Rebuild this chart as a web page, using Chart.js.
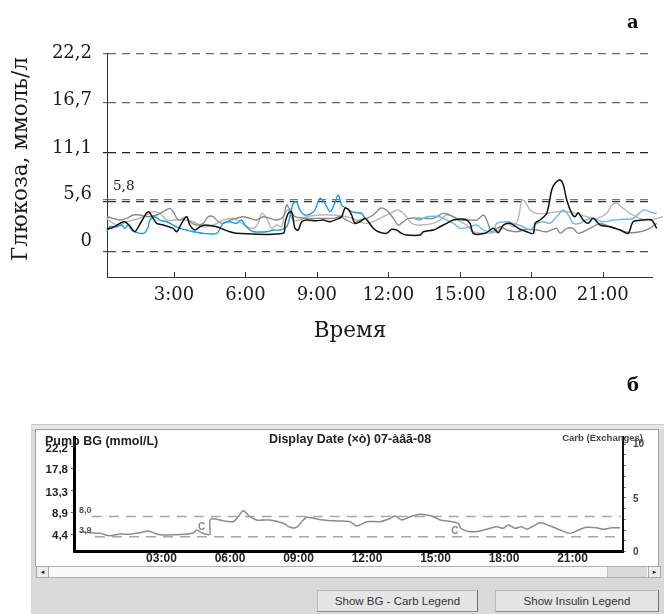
<!DOCTYPE html>
<html lang="ru">
<head>
<meta charset="utf-8">
<title>Глюкоза</title>
<script src="https://cdn.jsdelivr.net/npm/chart.js@4/dist/chart.umd.min.js"></script>
<style>
  html,body{margin:0;padding:0;background:#fff;}
  body{width:664px;height:614px;position:relative;overflow:hidden;}
  #ca{position:absolute;left:0;top:0;}
  .tag{position:absolute;font:bold 18px "DejaVu Serif",serif;color:#111;line-height:20px;}
  #win{position:absolute;left:31px;top:424px;width:633px;height:190px;background:#d9d9d9;}
  #winTop{position:absolute;left:31px;top:424px;width:633px;height:5px;background:#e6e6e6;border-top:1px solid #c8c8c8;box-sizing:border-box;}
  #plotframe{position:absolute;left:35px;top:429px;width:624px;height:138px;background:#a4a4a4;}
  #cb{position:absolute;left:36px;top:430px;background:#fff;}
  #scroll{position:absolute;left:36px;top:566px;width:625px;height:12px;background:#f8f8f8;border:1px solid #b0b0b0;box-sizing:border-box;}
  .sbtn{position:absolute;top:566px;height:12px;background:#ececec;border:1px solid #a8a8a8;box-sizing:border-box;font:7px "DejaVu Sans",sans-serif;color:#222;text-align:center;line-height:10px;}
  #thumb{position:absolute;left:607px;top:567px;width:40px;height:10px;background:#dadada;border-left:1px solid #c4c4c4;box-sizing:border-box;}
  .btn{position:absolute;top:590px;height:22px;background:#e5e5e5;border:1px solid #b8b8b8;border-right-color:#6f6f6f;border-bottom-color:#8a8a8a;box-sizing:border-box;font:11.5px "Liberation Sans",Arial,sans-serif;color:#333;text-align:center;line-height:20px;}
</style>
</head>
<body>
<canvas id="ca" width="664" height="345"></canvas>
<div class="tag" style="left:627px;top:12px;">а</div>
<div class="tag" style="left:627px;top:375px;">б</div>

<div id="win"></div>
<div id="winTop"></div>
<div id="plotframe"></div>
<canvas id="cb" width="622" height="136"></canvas>
<div id="scroll"></div>
<div class="sbtn" style="left:36px;width:13px;">◂</div>
<div id="thumb"></div>
<div class="sbtn" style="left:648px;width:13px;">▸</div>
<div class="btn" style="left:317px;width:161px;">Show BG - Carb Legend</div>
<div class="btn" style="left:495px;width:164px;">Show Insulin Legend</div>

<script>
// ---------- Panel а : glucose over 24 h (hours, mmol/L) ----------
const yTicks = [0, 5.6, 11.1, 16.7, 22.2];
const yTickLabels = ['0', '5,6', '11,1', '16,7', '22,2'];
const refValue = 5.8;
const refLabel = '5,8';
const xTicks = [3, 6, 9, 12, 15, 18, 21];
const xTickLabels = ['3:00', '6:00', '9:00', '12:00', '15:00', '18:00', '21:00'];
const yTitle = 'Глюкоза, ммоль/л';
const xTitle = 'Время';

const blackSeries = [[0.18,2.51],[0.45,2.73],[0.73,3.18],[0.94,3.36],[1.15,2.88],[1.36,2.24],[1.62,3.33],[1.92,4.48],[2.13,3.74],[2.28,3.18],[2.55,2.99],[2.97,2.62],[3.12,2.24],[3.32,3.18],[3.53,3.92],[3.67,2.99],[3.88,2.43],[4.09,2.80],[4.30,2.99],[4.79,2.80],[5.07,2.51],[5.35,2.24],[5.63,2.06],[7.59,2.06],[7.66,3.18],[7.80,4.30],[7.94,4.48],[8.08,2.62],[8.22,2.43],[8.36,3.36],[8.57,3.55],[8.99,3.47],[9.27,3.55],[9.55,3.36],[9.83,3.63],[10.04,3.92],[10.18,4.86],[10.32,4.75],[10.46,4.11],[10.60,3.18],[10.81,3.36],[11.02,3.74],[11.16,3.36],[11.37,2.62],[11.58,2.24],[11.93,2.06],[12.14,2.51],[12.35,2.43],[12.56,2.06],[12.77,1.87],[13.33,1.87],[13.47,2.24],[13.89,2.43],[14.17,2.80],[14.45,3.18],[14.73,3.55],[15.22,3.63],[15.43,3.18],[15.57,2.06],[16.06,2.06],[16.41,2.62],[16.62,2.13],[16.83,2.99],[17.11,3.18],[17.46,2.62],[17.81,2.24],[18.09,2.06],[18.16,3.18],[18.37,3.55],[18.65,4.30],[18.86,6.91],[19.00,7.66],[19.21,8.03],[19.35,7.47],[19.49,5.79],[19.70,4.30],[19.84,3.92],[19.97,4.37],[20.18,3.55],[20.39,3.18],[20.60,3.74],[20.89,2.99],[21.31,2.80],[21.73,2.43],[22.07,2.06],[22.28,3.36],[22.70,3.55],[23.06,3.55],[23.27,2.62],[23.48,2.06]];

const blueSeries = [[0.18,2.24],[0.31,2.80],[0.60,2.80],[0.81,2.99],[0.94,2.62],[1.08,2.99],[1.23,2.43],[1.36,2.24],[1.57,2.06],[1.78,2.13],[1.92,2.80],[1.99,3.55],[2.20,3.92],[2.41,3.55],[2.70,3.36],[2.97,2.99],[3.25,2.62],[3.53,2.43],[3.81,2.24],[4.23,2.06],[4.79,2.06],[5.07,3.18],[5.35,3.36],[5.63,3.18],[5.84,3.55],[5.98,2.99],[6.19,2.43],[6.33,2.24],[6.89,2.24],[7.17,2.43],[7.45,2.43],[7.73,2.80],[7.87,3.92],[8.01,5.42],[8.15,5.60],[8.29,4.67],[8.50,4.11],[8.78,4.30],[8.92,4.67],[9.13,5.98],[9.34,5.42],[9.55,4.48],[9.69,5.04],[9.90,6.35],[10.04,5.23],[10.25,4.86],[10.46,4.48],[10.67,4.37],[10.88,4.30],[11.02,3.74]];

const lightBlueSeries = [[13.05,3.74],[13.33,3.55],[13.61,3.92],[14.17,3.92],[14.45,3.55],[14.73,3.18],[15.01,2.62],[15.43,2.80],[15.71,2.99],[15.99,2.43],[16.41,2.24],[16.55,3.18],[16.97,3.36],[17.25,3.18],[17.67,2.80],[17.95,2.43],[18.23,3.18],[18.51,3.36],[18.79,3.18],[19.07,3.92],[19.35,4.67],[19.56,4.11],[19.76,3.18],[20.05,3.18],[20.26,3.55],[20.60,3.74],[21.02,3.36],[21.44,3.55],[21.86,3.63],[22.28,3.74],[22.70,4.67],[22.98,4.48],[23.27,4.30],[23.53,4.30]];

const darkGraySeries = [[0.18,3.92],[0.45,3.74],[0.73,3.55],[1.02,3.74],[1.29,4.11],[1.57,4.11],[1.92,3.92],[2.28,4.11],[2.55,4.48],[2.83,4.86],[2.97,4.48],[3.12,3.74],[3.25,3.55],[3.53,3.92],[3.67,3.36],[3.95,2.99],[4.23,3.18],[4.44,3.92],[4.65,3.92],[4.86,3.36],[5.07,3.18],[5.35,3.55],[5.63,3.74],[5.91,3.92],[6.19,3.74],[6.47,3.55],[6.75,3.92],[7.03,3.74],[7.31,3.55],[7.59,3.92],[7.73,5.23],[7.87,4.67],[8.08,3.92],[8.57,3.74],[9.27,3.74],[9.69,3.74],[9.97,3.92],[10.25,3.55],[10.53,3.18],[10.81,3.55],[11.09,3.74],[11.37,4.11],[11.65,4.86],[11.79,4.86],[12.00,4.48],[12.21,3.74],[12.42,2.99],[12.63,3.36],[12.84,3.74],[13.47,3.74],[13.89,3.74],[14.31,4.30],[14.73,3.92],[15.01,3.55],[15.43,3.55],[15.71,3.55],[15.99,4.11],[16.13,3.55],[16.34,2.24],[16.69,2.80],[16.97,2.43],[17.39,2.24],[17.81,2.51],[18.23,2.43],[18.65,2.24],[19.07,2.62],[19.21,2.06],[19.49,2.62],[19.76,2.62],[19.97,2.06],[20.33,2.43],[20.60,2.80],[20.89,3.18],[21.31,2.80],[21.73,2.43],[22.14,2.13],[22.57,2.24],[22.98,2.62],[23.27,3.18],[23.53,3.36]];

const lightGraySeries = [[0.18,3.74],[0.45,3.18],[0.73,2.99],[1.02,3.36],[1.29,3.55],[1.57,3.74],[1.86,4.11],[2.13,4.48],[2.41,4.30],[2.70,3.55],[3.04,3.55],[3.39,3.55],[3.81,3.36],[4.23,2.80],[4.65,2.99],[5.07,3.55],[5.49,3.74],[5.77,3.36],[6.05,2.80],[6.33,2.62],[6.54,3.18],[6.68,4.30],[6.89,3.74],[7.10,2.62],[7.31,2.99],[7.52,2.80],[7.66,4.30],[7.80,4.67],[8.01,3.55],[8.29,3.55],[8.57,3.92],[9.13,4.11],[9.69,4.11],[10.25,3.92],[10.67,3.55],[11.09,3.18],[11.51,3.55],[11.93,4.11],[12.42,4.67],[12.70,4.11],[12.98,3.18],[13.33,2.99],[13.89,3.18],[14.17,3.55],[14.45,4.11],[14.73,3.92],[15.01,3.36],[15.29,2.99],[15.57,2.24],[16.13,2.06],[16.55,2.24],[16.97,3.18],[17.25,2.80],[17.46,3.74],[17.60,5.79],[17.74,5.60],[17.95,4.67],[18.23,4.30],[18.65,4.30],[19.07,4.48],[19.49,4.48],[19.91,4.30],[20.33,3.92],[20.75,3.74],[21.17,4.30],[21.38,5.23],[21.59,5.42],[21.86,4.86],[22.14,4.30],[22.57,3.74],[22.98,3.55],[23.53,3.92]];

// ---------- Panel б : pump BG screenshot ----------
const bgTicks = [4.4, 8.9, 13.3, 17.8, 22.2];
const bgTickLabels = ['4,4', '8,9', '13,3', '17,8', '22,2'];
const carbTicks = [0,1,2,3,4,5,6,7,8,9,10];
const carbLabelTicks = [0, 5, 10];
const bTimeTicks = [3, 6, 9, 12, 15, 18, 21];
const bTimeLabels = ['03:00', '06:00', '09:00', '12:00', '15:00', '18:00', '21:00'];
const targetVals = [8.0, 3.9];
const targetLabels = ['8,0', '3,9'];
const targetStart = [-0.05, 0.09];
const targetEnd = 23.1;
const carbT = [4.76, 15.85];
const carbBG = [5.8, 4.9];
const leftTitle = 'Pump BG (mmol/L)';
const dateTitle = 'Display Date (×ò) 07-àâã-08';
const rightTitle = 'Carb (Exchanges)';

const pumpSeries = [[-0.59,4.90],[-0.15,4.70],[0.31,4.58],[0.74,4.09],[1.18,4.44],[1.62,4.37],[2.06,4.70],[2.42,5.05],[2.79,4.44],[3.08,4.23],[3.52,4.29],[3.96,4.37],[4.39,4.64],[4.54,5.25],[4.76,4.70],[4.98,4.37],[5.12,4.37],[5.15,7.42],[5.71,7.14],[6.15,6.94],[6.36,7.95],[6.58,9.17],[6.88,7.95],[7.17,7.28],[7.75,7.28],[8.34,6.61],[8.63,5.80],[8.92,5.80],[9.14,6.94],[9.36,7.83],[9.65,7.63],[10.09,7.28],[10.67,7.08],[11.26,6.94],[11.55,6.06],[11.99,6.94],[12.57,6.94],[12.93,7.42],[13.23,8.09],[13.52,7.28],[13.89,7.95],[14.32,8.44],[14.62,8.30],[14.91,7.95],[15.20,7.28],[15.71,6.94],[16.00,6.61],[16.11,5.59],[16.51,4.90],[16.95,5.05],[17.39,5.59],[17.68,5.92],[17.97,5.59],[18.19,6.27],[18.48,5.59],[18.78,5.92],[19.00,5.39],[19.29,6.06],[19.58,6.73],[20.02,6.06],[20.46,5.25],[20.89,4.58],[21.26,5.25],[21.62,5.80],[22.06,5.71],[22.35,5.39],[22.72,5.71],[23.08,5.71]];

const toXY = s => s.map(([t, v]) => ({x: t, y: v}));
const SERIF = '"DejaVu Serif", serif';
const SANS = '"Liberation Sans", Arial, sans-serif';

// ---- plugin for panel а ----
const panelA = {
  id: 'panelA',
  afterDraw(chart) {
    const {ctx, chartArea: ca, scales: {x, y}} = chart;
    ctx.save();
    ctx.strokeStyle = '#333'; ctx.lineWidth = 1;
    xTicks.forEach(v => {
      const px = Math.round(x.getPixelForValue(v)) + 0.5;
      ctx.beginPath(); ctx.moveTo(px, ca.bottom); ctx.lineTo(px, ca.bottom - 5); ctx.stroke();
    });
    const lift = [10, 7, 4.5, 2.5, 0];
    ctx.fillStyle = '#1a1a1a'; ctx.textBaseline = 'middle';
    ctx.font = '18px ' + SERIF; ctx.textAlign = 'right';
    yTicks.forEach((v, i) => ctx.fillText(yTickLabels[i], 92, y.getPixelForValue(v) - lift[i]));
    ctx.font = '13.5px ' + SERIF; ctx.textAlign = 'left';
    ctx.fillText(refLabel, 113, y.getPixelForValue(refValue) - 13);
    ctx.font = '21.5px ' + SERIF; ctx.textAlign = 'center';
    ctx.fillText(xTitle, 350, 331);
    ctx.translate(21, 159); ctx.rotate(-Math.PI / 2);
    ctx.fillText(yTitle, 0, 0);
    ctx.restore();
  }
};

const gridColors = {0: '#4a4a4a', 5.6: '#333', 5.8: '#777', 11.1: '#222', 16.7: '#666', 22.2: '#6a6a6a'};

new Chart(document.getElementById('ca'), {
  type: 'line',
  data: {
    datasets: [
      {label: 'black', data: toXY(blackSeries), borderColor: '#111', borderWidth: 1.5},
      {label: 'blue', data: toXY(blueSeries), borderColor: '#1c9ad8', borderWidth: 1.4},
      {label: 'lightblue', data: toXY(lightBlueSeries), borderColor: '#6db9e6', borderWidth: 1.4},
      {label: 'darkgray', data: toXY(darkGraySeries), borderColor: '#8a8a8a', borderWidth: 1.4},
      {label: 'lightgray', data: toXY(lightGraySeries), borderColor: '#b8b8b8', borderWidth: 1.4}
    ].map(d => Object.assign(d, {pointRadius: 0, tension: 0.3, clip: false, fill: false}))
  },
  options: {
    responsive: false, animation: false,
    layout: {padding: {left: 0, right: 12, top: 53.5, bottom: 0}},
    plugins: {legend: {display: false}, tooltip: {enabled: false}},
    scales: {
      x: {
        type: 'linear', min: 0.19, max: 23.07,
        afterBuildTicks: s => { s.ticks = xTicks.map(v => ({value: v})); },
        afterFit: s => { s.height = 68; },
        ticks: {
          callback: v => xTickLabels[xTicks.indexOf(v)] ?? '',
          font: {family: SERIF, size: 18}, color: '#1a1a1a', padding: 8,
          maxRotation: 0, autoSkip: false
        },
        grid: {display: false, drawTicks: false},
        border: {display: true, color: '#333', width: 1}
      },
      y: {
        type: 'linear', min: -2.83, max: 22.2,
        afterBuildTicks: s => { s.ticks = [...yTicks, refValue].map(v => ({value: v})); },
        afterFit: s => { s.width = 107; },
        ticks: {display: false},
        grid: {
          color: c => gridColors[c.tick.value] || '#555',
          lineWidth: 1.2, drawTicks: true, tickLength: 4,
          tickColor: c => gridColors[c.tick.value] || '#555'
        },
        border: {display: true, color: '#333', width: 1, dash: [8, 6]}
      }
    }
  },
  plugins: [panelA]
});

// ---- plugin for panel б ----
const panelB = {
  id: 'panelB',
  afterDraw(chart) {
    const {ctx, scales: {x, y, y2}} = chart;
    ctx.save();
    ctx.textBaseline = 'middle';
    ctx.fillStyle = '#1e1e1e'; ctx.font = 'bold 11.5px ' + SANS; ctx.textAlign = 'right';
    bgTicks.forEach((v, i) => ctx.fillText(bgTickLabels[i], 32, y.getPixelForValue(v) + 2));
    ctx.textAlign = 'left'; ctx.font = 'bold 10px ' + SANS; ctx.fillStyle = '#444';
    carbLabelTicks.forEach(v => ctx.fillText(String(v), 597, y2.getPixelForValue(v) + (v === 10 ? 0 : 1)));
    ctx.font = 'bold 9px ' + SANS; ctx.fillStyle = '#555';
    targetVals.forEach((v, i) => ctx.fillText(targetLabels[i], 43, y.getPixelForValue(v) - 6));
    ctx.font = 'bold 10px ' + SANS; ctx.fillStyle = '#8a8a8a'; ctx.textAlign = 'center';
    carbT.forEach((t, i) => ctx.fillText('C', x.getPixelForValue(t), y.getPixelForValue(carbBG[i])));
    ctx.fillStyle = '#222'; ctx.font = 'bold 12.5px ' + SANS; ctx.textAlign = 'left';
    ctx.fillText(leftTitle, 9, 11.5);
    ctx.textAlign = 'center'; ctx.font = 'bold 12.5px ' + SANS;
    ctx.fillText(dateTitle, 314, 10);
    ctx.textAlign = 'right'; ctx.font = 'bold 9.5px ' + SANS; ctx.fillStyle = '#444';
    ctx.fillText(rightTitle, 607, 8);
    ctx.restore();
  }
};

new Chart(document.getElementById('cb'), {
  type: 'line',
  data: {
    datasets: [
      {label: 'Pump BG', data: toXY(pumpSeries), borderColor: '#8c8c8c', borderWidth: 1.5, pointRadius: 0, tension: 0.3, yAxisID: 'y'},
      ...targetVals.map((v, i) => ({
        label: targetLabels[i], data: [{x: targetStart[i], y: v}, {x: targetEnd, y: v}],
        borderColor: '#a6a6a6', borderWidth: 1.5, borderDash: [10, 7], pointRadius: 0, yAxisID: 'y'
      }))
    ]
  },
  options: {
    responsive: false, animation: false,
    layout: {padding: {left: 0, right: 0, top: 7, bottom: 0}},
    plugins: {legend: {display: false}, tooltip: {enabled: false}},
    scales: {
      x: {
        type: 'linear', min: -0.83, max: 23.21,
        afterBuildTicks: s => { s.ticks = bTimeTicks.map(v => ({value: v})); },
        afterFit: s => { s.height = 14.3; },
        ticks: {
          callback: v => bTimeLabels[bTimeTicks.indexOf(v)] ?? '',
          font: {family: SANS, size: 12, weight: 'bold'}, color: '#222', padding: 0,
          maxRotation: 0, autoSkip: false
        },
        grid: {display: false, drawTicks: false},
        border: {display: true, color: '#000', width: 3}
      },
      y: {
        type: 'linear', position: 'left', min: 0.84, max: 24.15,
        afterBuildTicks: s => { s.ticks = bgTicks.map(v => ({value: v})); },
        afterFit: s => { s.width = 38; },
        ticks: {display: false},
        grid: {drawOnChartArea: false, drawTicks: true, tickLength: 3, color: '#666', tickColor: '#666'},
        border: {display: true, color: '#000', width: 3}
      },
      y2: {
        type: 'linear', position: 'right', min: 0, max: 10.65,
        afterBuildTicks: s => { s.ticks = carbTicks.map(v => ({value: v})); },
        afterFit: s => { s.width = 35; },
        ticks: {display: false},
        grid: {drawOnChartArea: false, drawTicks: true, tickLength: 3, color: '#777', tickColor: '#777'},
        border: {display: true, color: '#111', width: 2}
      }
    }
  },
  plugins: [panelB]
});
</script>
</body>
</html>
